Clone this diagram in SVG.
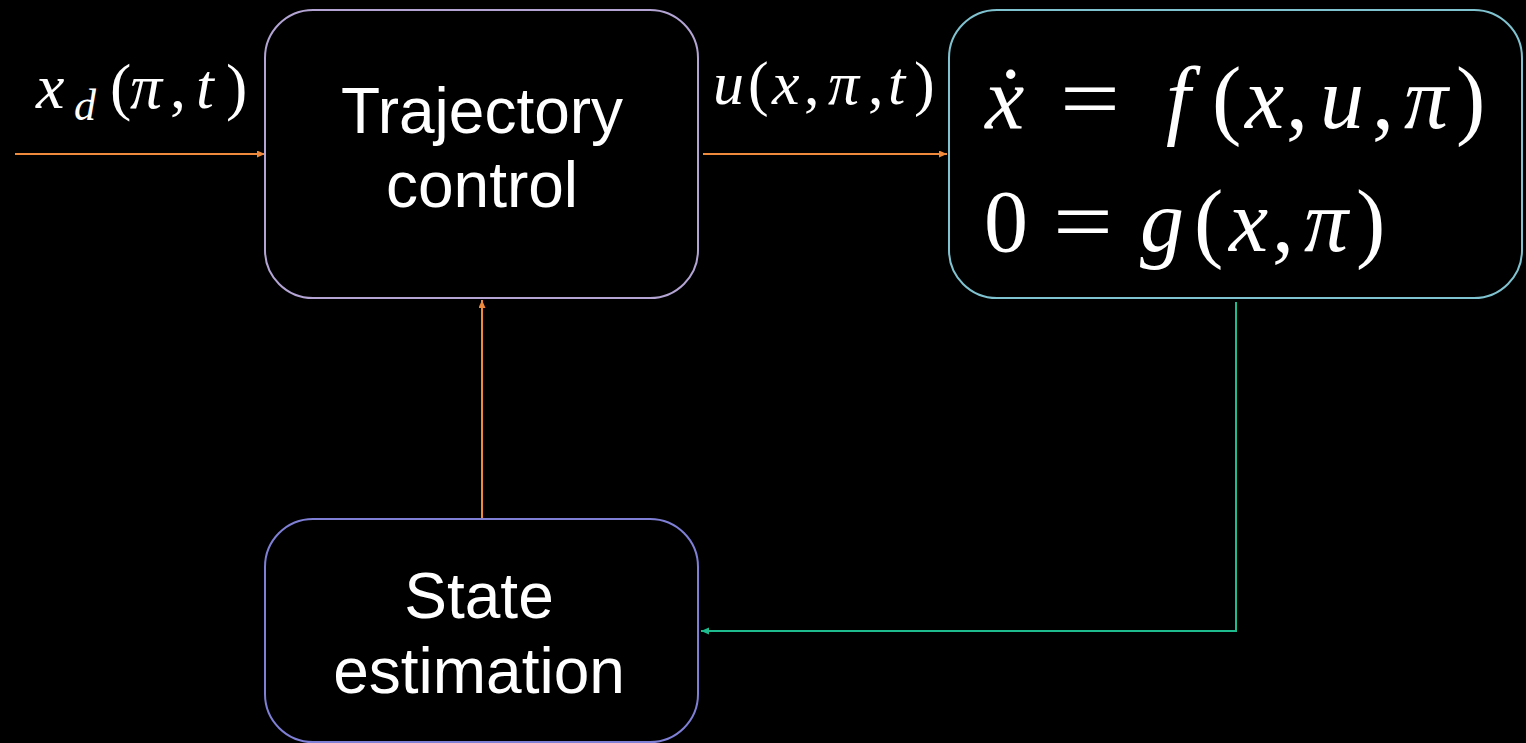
<svg xmlns="http://www.w3.org/2000/svg" width="1526" height="743" viewBox="0 0 1526 743">
<style>
.bg{fill:#000}
.box{fill:#000;stroke-width:2}
.lbl{font-family:"Liberation Sans",Arial,sans-serif;font-size:64px;fill:#fff;text-anchor:middle}
.math{font-family:"Liberation Serif","Times New Roman",serif;fill:#fff}
.it{font-style:italic}
.or{fill:none;stroke:#ef8a3d;stroke-width:2}
.gr{fill:none;stroke:#1dbb8e;stroke-width:2}
</style>
<defs>
<marker id="ao" markerUnits="userSpaceOnUse" markerWidth="10" markerHeight="8" refX="8" refY="3.5" orient="auto"><path d="M0,0 L8,3.5 L0,7 z" fill="#ef8a3d"/></marker>
<marker id="ag" markerUnits="userSpaceOnUse" markerWidth="10" markerHeight="8" refX="8" refY="3.5" orient="auto"><path d="M0,0 L8,3.5 L0,7 z" fill="#1dbb8e"/></marker>
</defs>
<rect class="bg" x="0" y="0" width="1526" height="743"/>
<g id="connectors">
<line class="or" x1="15" y1="154" x2="265" y2="154" marker-end="url(#ao)"/>
<line class="or" x1="703" y1="154" x2="947" y2="154" marker-end="url(#ao)"/>
<line class="or" x1="482" y1="522" x2="482" y2="300" marker-end="url(#ao)"/>
<polyline class="gr" points="1236,302 1236,631 701,631" marker-end="url(#ag)"/>
</g>
<g id="label-xd">
<text class="math" font-size="64" y="108"><tspan class="it" x="36">x</tspan><tspan class="it" x="74" y="120" font-size="44">d</tspan><tspan x="110" y="108">(</tspan><tspan class="it" x="130">π</tspan><tspan x="170">,</tspan><tspan class="it" x="196">t</tspan><tspan x="226">)</tspan></text>
</g>
<g id="label-u">
<text class="math" font-size="62" y="104"><tspan class="it" x="713">u</tspan><tspan x="748">(</tspan><tspan class="it" x="772">x</tspan><tspan x="804">,</tspan><tspan class="it" x="828">π</tspan><tspan x="868">,</tspan><tspan class="it" x="888">t</tspan><tspan x="914">)</tspan></text>
</g>
<g id="node-trajectory">
<rect class="box" x="265" y="10" width="433" height="288" rx="48" ry="48" stroke="#b3a4d4"/>
<text class="lbl" x="482" y="133">Trajectory</text>
<text class="lbl" x="482" y="207">control</text>
</g>
<g id="node-state">
<rect class="box" x="265" y="519" width="433" height="223" rx="48" ry="48" stroke="#7f7fd6"/>
<text class="lbl" x="479" y="618">State</text>
<text class="lbl" x="479" y="693">estimation</text>
</g>
<g id="node-system">
<rect class="box" x="949" y="10" width="573" height="288" rx="48" ry="48" stroke="#80c3d0"/>
<text class="math" font-size="88" y="128"><tspan class="it" x="985">ẋ</tspan></text>
<text class="math" font-size="88" x="1060" y="128" textLength="60" lengthAdjust="spacingAndGlyphs">=</text>
<text class="math" font-size="88" y="128"><tspan class="it" x="1166">f</tspan><tspan x="1212">(</tspan><tspan class="it" x="1245">x</tspan><tspan x="1286">,</tspan><tspan class="it" x="1320">u</tspan><tspan x="1372">,</tspan><tspan class="it" x="1404">π</tspan><tspan x="1456">)</tspan></text>
<text class="math" font-size="88" y="251"><tspan x="984">0</tspan></text>
<text class="math" font-size="88" x="1053" y="251" textLength="60" lengthAdjust="spacingAndGlyphs">=</text>
<text class="math" font-size="88" y="251"><tspan class="it" x="1140">g</tspan><tspan x="1194">(</tspan><tspan class="it" x="1229">x</tspan><tspan x="1272">,</tspan><tspan class="it" x="1304">π</tspan><tspan x="1356">)</tspan></text>
</g>
</svg>
